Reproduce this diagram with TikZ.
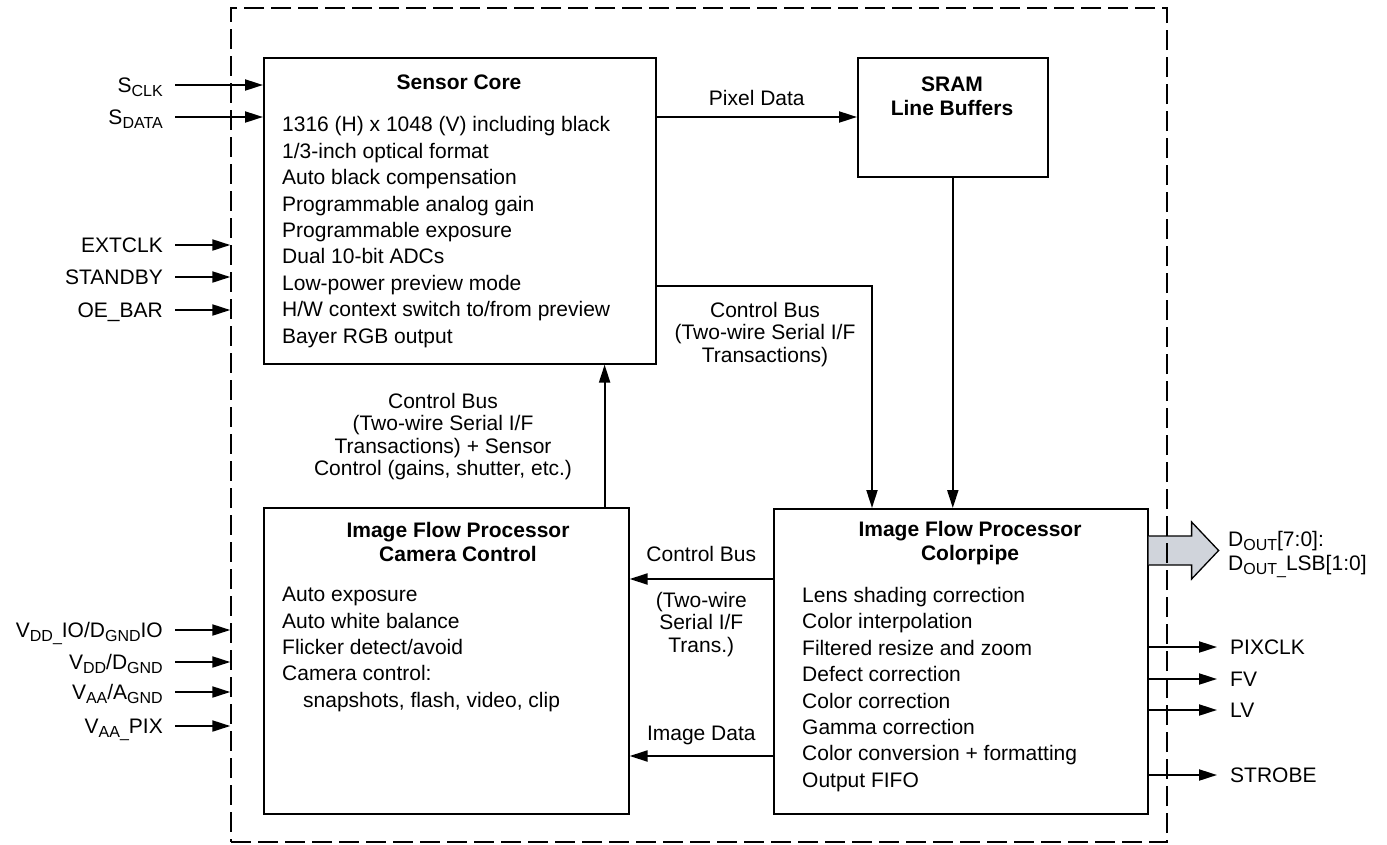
\documentclass[tikz,border=0pt]{standalone}
\usepackage{fontspec}
\setmainfont{Liberation Sans}
\usetikzlibrary{arrows.meta,positioning}

\definecolor{busgray}{RGB}{208,212,219}
\newcommand{\pinsub}[1]{\raisebox{-3.5pt}{\fontsize{16}{16}\selectfont #1}}

\tikzset{
  camera/.style={
    x=1pt, y=-1pt,
    font=\fontsize{21}{26.4}\selectfont,
    every node/.style={inner sep=0pt},
    block/.style={
        draw,
        line width=1.6pt,
        anchor=north west,
    },
    chip/.style={
        draw,
        line width=1.4pt,
        dash pattern=on 20pt off 7pt,
    },
    title/.style={
        font=\fontsize{21}{23.6}\selectfont\bfseries,
        align=center,
        anchor=north,
    },
    items/.style={align=left, anchor=north west},
    note/.style={font=\fontsize{21}{22.4}\selectfont, align=center, anchor=north},
    pin/.style={text height=15pt, text depth=0pt},
    sig/.style={line width=2pt, -{Triangle[length=18pt,width=11pt]}},
    bus/.style={fill=busgray, line width=1.3pt},
  }
}

\begin{document}
\begin{tikzpicture}[camera]
    \useasboundingbox (0,0) rectangle (1387,844);

    \node[block, minimum width=392pt, minimum height=306pt] (core) at (263,57) {};
    \node[block, minimum width=190pt, minimum height=119pt] (sram) at (857,57) {};
    \node[block, minimum width=365pt, minimum height=306pt] (ifpcc) at (263,507) {};
    \node[block, minimum width=374pt, minimum height=305pt] (ifpcp) at (773,508) {};

    \node[title] (coreT) at (459,74.7) {Sensor Core};
    \node[items] (coreL) at (282,116.5) {1316 (H) x 1048 (V) including black\\
        1/3-inch optical format\\
        Auto black compensation\\
        Programmable analog gain\\
        Programmable exposure\\
        Dual 10-bit ADCs\\
        Low-power preview mode\\
        H/W context switch to/from preview\\
        Bayer RGB output};

    \node[title] (sramT) at (952,77) {SRAM\\Line Buffers};

    \node[title] (ifpccT) at (458,522) {Image Flow Processor\\Camera Control};
    \node[items] (ifpccL) at (282,587) {Auto exposure\\
        Auto white balance\\
        Flicker detect/avoid\\
        Camera control:\\
        \hspace*{21pt}snapshots, flash, video, clip};

    \node[title] (ifpcpT) at (970,521) {Image Flow Processor\\Colorpipe};
    \node[items] (ifpcpL) at (802,587) {Lens shading correction\\
        Color interpolation\\
        Filtered resize and zoom\\
        Defect correction\\
        Color correction\\
        Gamma correction\\
        Color conversion + formatting\\
        Output FIFO};

    \filldraw[bus] ([yshift=-28pt]ifpcp.north east) -- ++(43,0) -- ++(0,-14)
        -- ++(27,28.5) -- ++(-27,28.5) -- ++(0,-14) -- ++(-43,0);
    \node[items, font=\fontsize{21}{24}\selectfont] (dout) at (1228,531.5)
        {D\pinsub{OUT}[7:0]:\\D\pinsub{OUT\_}LSB[1:0]};

    \node[chip, minimum width=936pt, minimum height=834pt] (chip) at (699,425) {};

    \draw[sig] ([yshift=-60pt]core.north east)
        -- node[above=10pt] (pixT) {Pixel Data} ([yshift=-60pt]sram.north west);
    \draw[sig] ([yshift=79pt]core.south east) -| ([xshift=99pt]ifpcp.north west);
    \node[note] (busT) at (765,302) {Control Bus\\(Two-wire Serial I/F\\Transactions)};
    \draw[sig] (sram.south) -- (sram.south |- ifpcp.north);

    \draw[sig] ([xshift=-25pt]ifpcc.north east) -- ([xshift=-25pt]ifpcc.north east |- core.south);
    \node[note] (ctrlT) at (443,393) {Control Bus\\(Two-wire Serial I/F\\Transactions) + Sensor\\Control (gains, shutter, etc.)};

    \draw[sig] ([yshift=-71pt]ifpcp.north west) -- node[above=16pt] (cbT) {Control Bus}
        node[note, below=12pt] (twT) {(Two-wire\\Serial I/F\\Trans.)}
        ([yshift=-71pt]ifpcp.north west -| ifpcc.east);
    \draw[sig] ([yshift=-248pt]ifpcp.north west)
        -- node[above=10pt] (imgT) {Image Data} ([yshift=-248pt]ifpcp.north west -| ifpcc.east);

    \node[pin, anchor=east] (sclk) at (163,85) {S\pinsub{CLK}};
    \node[pin, anchor=east] (sdata) at (163,117) {S\pinsub{DATA}};
    \node[pin, anchor=east] (extclk) at (163,245) {EXTCLK};
    \node[pin, anchor=east] (standby) at (163,277) {STANDBY};
    \node[pin, anchor=east] (oebar) at (163,310) {OE\_BAR};
    \node[pin, anchor=east] (vddio) at (163,630) {V\pinsub{DD\_}IO/D\pinsub{GND}IO};
    \node[pin, anchor=east] (vdd) at (163,662) {V\pinsub{DD}/D\pinsub{GND}};
    \node[pin, anchor=east] (vaa) at (163,692) {V\pinsub{AA}/A\pinsub{GND}};
    \node[pin, anchor=east] (vaapix) at (163,726) {V\pinsub{AA\_}PIX};

    \draw[sig] ([xshift=12pt]sclk.east) -- (sclk.east -| core.west);
    \draw[sig] ([xshift=12pt]sdata.east) -- (sdata.east -| core.west);
    \draw[sig] ([xshift=12pt]extclk.east) -- (extclk.east -| chip.west);
    \draw[sig] ([xshift=12pt]standby.east) -- (standby.east -| chip.west);
    \draw[sig] ([xshift=12pt]oebar.east) -- (oebar.east -| chip.west);
    \draw[sig] ([xshift=12pt]vddio.east) -- (vddio.east -| chip.west);
    \draw[sig] ([xshift=12pt]vdd.east) -- (vdd.east -| chip.west);
    \draw[sig] ([xshift=12pt]vaa.east) -- (vaa.east -| chip.west);
    \draw[sig] ([xshift=12pt]vaapix.east) -- (vaapix.east -| chip.west);

    \node[pin, anchor=west] (pixclk) at (1230,647) {PIXCLK};
    \node[pin, anchor=west] (fv) at (1230,679) {FV};
    \node[pin, anchor=west] (lv) at (1230,710) {LV};
    \node[pin, anchor=west] (strobe) at (1230,775) {STROBE};

    \draw[sig] (pixclk.west -| ifpcp.east) -- ([xshift=-13pt]pixclk.west);
    \draw[sig] (fv.west -| ifpcp.east) -- ([xshift=-13pt]fv.west);
    \draw[sig] (lv.west -| ifpcp.east) -- ([xshift=-13pt]lv.west);
    \draw[sig] (strobe.west -| ifpcp.east) -- ([xshift=-13pt]strobe.west);
\end{tikzpicture}
\end{document}
